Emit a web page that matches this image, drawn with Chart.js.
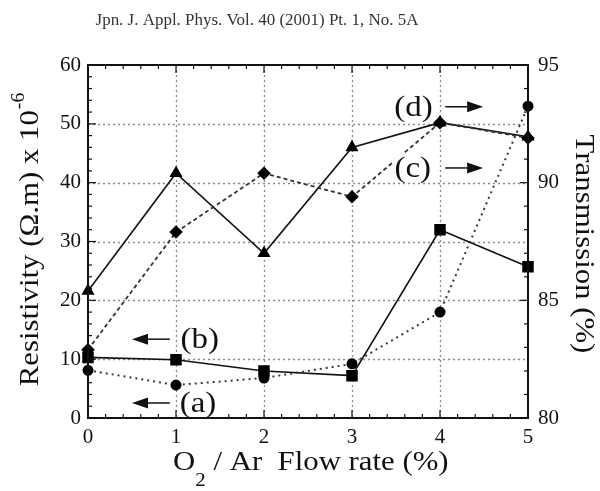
<!DOCTYPE html>
<html>
<head>
<meta charset="utf-8">
<script src="https://cdn.jsdelivr.net/npm/chart.js@4.4.1/dist/chart.umd.min.js"></script>
<style>
  html, body { margin: 0; padding: 0; background: #fff; }
</style>
</head>
<body>
<canvas id="chart" width="600" height="491"></canvas>
<script>
// Data
const flowRates = [0, 1, 2, 3, 4, 5];
const resistivityA = [8.1, 5.6, 6.8, 9.2, 18.0, 53.0];
const resistivityB = [10.3, 9.9, 8.0, 7.2, 32.0, 25.7];
const transmissionC = [82.9, 87.9, 90.4, 89.4, 92.55, 91.9];
const transmissionD = [85.4, 90.4, 87.0, 91.5, 92.55, 91.95];
const xTickLabels = ['0', '1', '2', '3', '4', '5'];
const leftTicks = [0, 10, 20, 30, 40, 50, 60];
const rightTicks = [80, 85, 90, 95];

const serif = '"Liberation Serif", "DejaVu Serif", serif';
const ink = '#111';
const stretch = 1.1; // the scanned lettering runs wider than plain Times

function points(values) {
    return flowRates.map((x, i) => ({ x: x, y: values[i] }));
}

// text drawn wider along its baseline, returns the drawn width
function wideText(ctx, text, x, y, size) {
    ctx.font = size + 'px ' + serif;
    ctx.save();
    ctx.translate(x, y);
    ctx.scale(stretch, 1);
    ctx.fillText(text, 0, 0);
    ctx.restore();
    return ctx.measureText(text).width * stretch;
}

function wideWidth(ctx, text, size) {
    ctx.font = size + 'px ' + serif;
    return ctx.measureText(text).width * stretch;
}

// Grid, inward ticks and frame
const framePlugin = {
    id: 'frame',
    beforeDatasetsDraw(chart) {
        const { ctx, chartArea: a, scales } = chart;
        ctx.save();
        ctx.strokeStyle = '#8a8a8a';
        ctx.lineWidth = 1.3;
        ctx.setLineDash([2, 3]);
        flowRates.slice(1, -1).forEach(v => {
            const px = Math.round(scales.x.getPixelForValue(v)) + 0.5;
            ctx.beginPath(); ctx.moveTo(px, a.top); ctx.lineTo(px, a.bottom); ctx.stroke();
        });
        leftTicks.slice(1, -1).forEach(v => {
            const py = Math.round(scales.y.getPixelForValue(v)) + 0.5;
            ctx.beginPath(); ctx.moveTo(a.left, py); ctx.lineTo(a.right, py); ctx.stroke();
        });
        ctx.restore();
    },
    afterDatasetsDraw(chart) {
        const { ctx, chartArea: a, scales } = chart;
        ctx.save();
        ctx.strokeStyle = ink;
        ctx.lineWidth = 1.2;
        // x ticks, bottom and top
        for (let i = 0; i <= 25; i++) {
            const px = scales.x.getPixelForValue(i * 0.2);
            const len = i % 5 === 0 ? 8 : 4;
            ctx.beginPath();
            ctx.moveTo(px, a.bottom); ctx.lineTo(px, a.bottom - len);
            ctx.moveTo(px, a.top); ctx.lineTo(px, a.top + len);
            ctx.stroke();
        }
        // left ticks
        for (let v = 0; v <= 60; v += 2) {
            const py = scales.y.getPixelForValue(v);
            const len = v % 10 === 0 ? 8 : 4;
            ctx.beginPath(); ctx.moveTo(a.left, py); ctx.lineTo(a.left + len, py); ctx.stroke();
        }
        // right ticks
        for (let v = 80; v <= 95; v += 1) {
            const py = scales.y1.getPixelForValue(v);
            const len = v % 5 === 0 ? 8 : 4;
            ctx.beginPath(); ctx.moveTo(a.right, py); ctx.lineTo(a.right - len, py); ctx.stroke();
        }
        ctx.lineWidth = 2;
        ctx.strokeRect(a.left, a.top, a.right - a.left, a.bottom - a.top);
        ctx.restore();
    }
};

// Header, axis titles and (a)-(d) callouts
const labelsPlugin = {
    id: 'labels',
    afterDraw(chart) {
        const { ctx, scales } = chart;
        const sx = v => scales.x.getPixelForValue(v);
        const sy = v => scales.y.getPixelForValue(v);
        ctx.save();
        ctx.fillStyle = ink;
        ctx.strokeStyle = ink;
        ctx.textAlign = 'left';

        // journal header
        ctx.fillStyle = '#333';
        ctx.textBaseline = 'middle';
        ctx.font = '16px ' + serif;
        const header = 'Jpn. J. Appl. Phys. Vol. 40 (2001) Pt. 1, No. 5A';
        ctx.save();
        ctx.translate(257, 21);
        ctx.scale(1.06, 1);
        ctx.textAlign = 'center';
        ctx.fillText(header, 0, 0);
        ctx.restore();
        ctx.fillStyle = ink;

        // left title
        ctx.save();
        ctx.translate(31, 240);
        ctx.rotate(-Math.PI / 2);
        ctx.textBaseline = 'middle';
        const main = 'Resistivity (\u03A9.m) x 10';
        const w1 = wideWidth(ctx, main, 28);
        const w2 = wideWidth(ctx, '-6', 18);
        const start = -(w1 + w2) / 2;
        wideText(ctx, main, start, 0, 28);
        wideText(ctx, '-6', start + w1 + 1, -12, 18);
        ctx.restore();

        // right title
        ctx.save();
        ctx.translate(583, 244);
        ctx.rotate(Math.PI / 2);
        ctx.textBaseline = 'middle';
        const rt = 'Transmission (%)';
        wideText(ctx, rt, -wideWidth(ctx, rt, 28) / 2, 0, 28);
        ctx.restore();

        // x title with subscript
        ctx.textBaseline = 'alphabetic';
        let x0 = 173;
        x0 += wideText(ctx, 'O', x0, 470, 28);
        x0 += wideText(ctx, '2', x0, 486, 19);
        wideText(ctx, ' / Ar  Flow rate (%)', x0, 470, 28);

        // callouts
        const callouts = [
            { text: '(b)', x: 1.27, y: 13.4, from: 0.93, to: 0.5 },
            { text: '(a)', x: 1.25, y: 2.55, from: 0.93, to: 0.5 },
            { text: '(d)', x: 3.70, y: 52.9, from: 4.06, to: 4.49 },
            { text: '(c)', x: 3.69, y: 42.5, from: 4.06, to: 4.49 }
        ];
        ctx.textBaseline = 'middle';
        callouts.forEach(c => {
            const px = sx(c.x), py = sy(c.y);
            const w = wideWidth(ctx, c.text, 30);
            ctx.fillStyle = '#fff';
            ctx.fillRect(px - w / 2 - 1, py - 14, w + 2, 28);
            ctx.fillStyle = ink;
            wideText(ctx, c.text, px - w / 2, py + 1, 30);
            // arrow
            const x1 = sx(c.from), x2 = sx(c.to);
            const dir = Math.sign(x2 - x1);
            const head = 16;
            ctx.lineWidth = 1.5;
            ctx.beginPath();
            ctx.moveTo(x1, py); ctx.lineTo(x2 - dir * head, py);
            ctx.stroke();
            ctx.beginPath();
            ctx.moveTo(x2, py);
            ctx.lineTo(x2 - dir * head, py - 5.5);
            ctx.lineTo(x2 - dir * head, py + 5.5);
            ctx.closePath();
            ctx.fill();
        });
        ctx.restore();
    }
};

new Chart(document.getElementById('chart'), {
    type: 'line',
    data: {
        datasets: [
            {
                label: '(a)', data: points(resistivityA), yAxisID: 'y',
                borderColor: '#3a3a3a', borderWidth: 2, borderDash: [2, 4],
                pointStyle: 'circle', pointRadius: 4.5,
                pointBackgroundColor: '#000', pointBorderColor: '#000'
            },
            {
                label: '(b)', data: points(resistivityB), yAxisID: 'y',
                borderColor: ink, borderWidth: 1.6,
                pointStyle: 'rect', pointRadius: 7,
                pointBackgroundColor: '#000', pointBorderColor: '#000'
            },
            {
                label: '(c)', data: points(transmissionC), yAxisID: 'y1',
                borderColor: '#333', borderWidth: 1.8, borderDash: [4, 3],
                pointStyle: 'rectRot', pointRadius: 5.5,
                pointBackgroundColor: '#000', pointBorderColor: '#000'
            },
            {
                label: '(d)', data: points(transmissionD), yAxisID: 'y1',
                borderColor: ink, borderWidth: 1.6,
                pointStyle: 'triangle', pointRadius: 6,
                pointBackgroundColor: '#000', pointBorderColor: '#000'
            }
        ]
    },
    options: {
        responsive: false,
        animation: false,
        devicePixelRatio: 1,
        clip: false,
        layout: { padding: { top: 65 } },
        elements: { line: { tension: 0, fill: false } },
        plugins: {
            legend: { display: false },
            tooltip: { enabled: false },
            title: { display: false }
        },
        scales: {
            x: {
                type: 'linear', min: 0, max: 5,
                afterFit: s => { s.height = 73; },
                afterBuildTicks: s => { s.ticks = flowRates.map(v => ({ value: v })); },
                ticks: {
                    color: ink, padding: 7,
                    font: { family: serif, size: 21 },
                    callback: (v, i) => xTickLabels[i]
                },
                grid: { display: false, drawTicks: false },
                border: { display: false }
            },
            y: {
                position: 'left', min: 0, max: 60,
                afterFit: s => { s.width = 88; },
                afterBuildTicks: s => { s.ticks = leftTicks.map(v => ({ value: v })); },
                ticks: { color: ink, padding: 7, font: { family: serif, size: 21 } },
                grid: { display: false, drawTicks: false },
                border: { display: false }
            },
            y1: {
                position: 'right', min: 80, max: 95,
                afterFit: s => { s.width = 72; },
                afterBuildTicks: s => { s.ticks = rightTicks.map(v => ({ value: v })); },
                ticks: { color: ink, padding: 10, font: { family: serif, size: 21 } },
                grid: { display: false, drawTicks: false },
                border: { display: false }
            }
        }
    },
    plugins: [framePlugin, labelsPlugin]
});
</script>
</body>
</html>
